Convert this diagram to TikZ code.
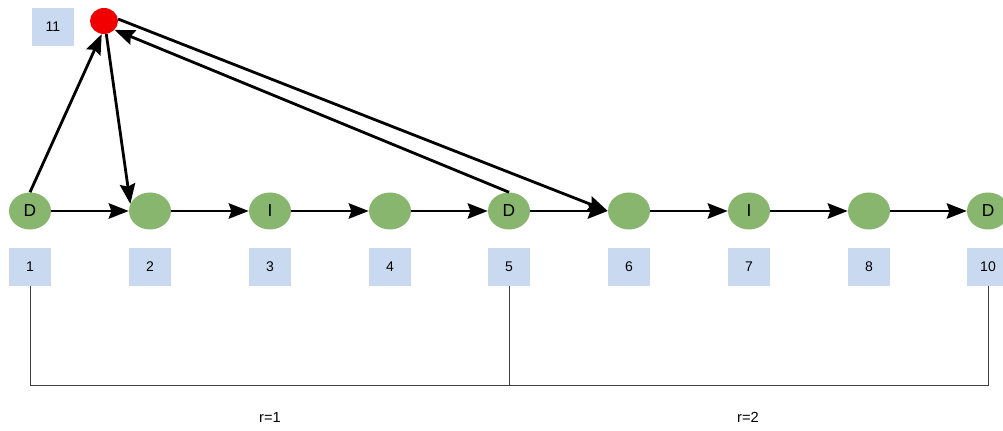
\documentclass[tikz,border=0pt]{standalone}
\usepackage{fontspec}
\setmainfont{Liberation Sans}
\usetikzlibrary{shapes.geometric,arrows.meta}
\definecolor{gfill}{HTML}{88B66F}
\definecolor{bfill}{HTML}{C9DAF0}
\definecolor{rfill}{HTML}{F00000}
\tikzset{
  state/.style={ellipse,fill=gfill,draw=none,minimum width=31.5pt,minimum height=27.75pt,inner sep=0pt,font=\fontsize{13}{15}\selectfont},
  idbox/.style={rectangle,fill=bfill,draw=none,minimum width=31.5pt,minimum height=28.5pt,inner sep=0pt,font=\fontsize{10.5}{12}\selectfont},
  hub/.style={ellipse,fill=rfill,draw=none,minimum width=21pt,minimum height=19.5pt,inner sep=0pt},
  arr/.style={line width=2.1pt,-{Stealth[length=15pt,width=11.5pt,inset=2pt]}},
  brk/.style={line width=0.6pt,draw=black!75},
  rlab/.style={font=\fontsize{11}{13}\selectfont}
}
\begin{document}
\begin{tikzpicture}[x=0.75pt,y=-0.75pt]
\useasboundingbox (0,0) rectangle (1003,431);
% states
\node[state] (n1) at (30,211) {D};
\node[state] (n2) at (150,211) {};
\node[state] (n3) at (270,211) {I};
\node[state] (n4) at (390,211) {};
\node[state] (n5) at (509,211) {D};
\node[state] (n6) at (629,211) {};
\node[state] (n7) at (749,211) {I};
\node[state] (n8) at (869,211) {};
\node[state] (n10) at (988,211) {D};
\node[hub] (h) at (104,21) {};
% id boxes
\node[idbox] (b1) at (30,267) {1};
\node[idbox] (b2) at (150,267) {2};
\node[idbox] (b3) at (270,267) {3};
\node[idbox] (b4) at (390,267) {4};
\node[idbox] (b5) at (509,267) {5};
\node[idbox] (b6) at (629,267) {6};
\node[idbox] (b7) at (749,267) {7};
\node[idbox] (b8) at (869,267) {8};
\node[idbox] (b10) at (988,267) {10};
\node[idbox] (b11) at (53,27) {11};
% chain arrows
\draw[arr] (n1.east) -- (n2.west);
\draw[arr] (n2.east) -- (n3.west);
\draw[arr] (n3.east) -- (n4.west);
\draw[arr] (n4.east) -- (n5.west);
\draw[arr] (n5.east) -- (n6.west);
\draw[arr] (n6.east) -- (n7.west);
\draw[arr] (n7.east) -- (n8.west);
\draw[arr] (n8.east) -- (n10.west);
% hub arrows
\draw[arr] (n1.north) -- (h.-100);
\draw[arr] (h.-80) -- (n2.160);
\draw[arr] (h.8) -- (n6.west);
\draw[arr] (n5.north) -- (h.-40);
% brackets
\coordinate (c1) at (30,385);
\coordinate (c5) at (509,385);
\coordinate (c10) at (988,385);
\draw[brk] (b1.south) -- (c1) -- (c10) -- (b10.south);
\draw[brk] (b5.south) -- (c5);
\node[rlab] (r1) at (270,417) {r=1};
\node[rlab] (r2) at (748,417) {r=2};
\end{tikzpicture}
\end{document}
